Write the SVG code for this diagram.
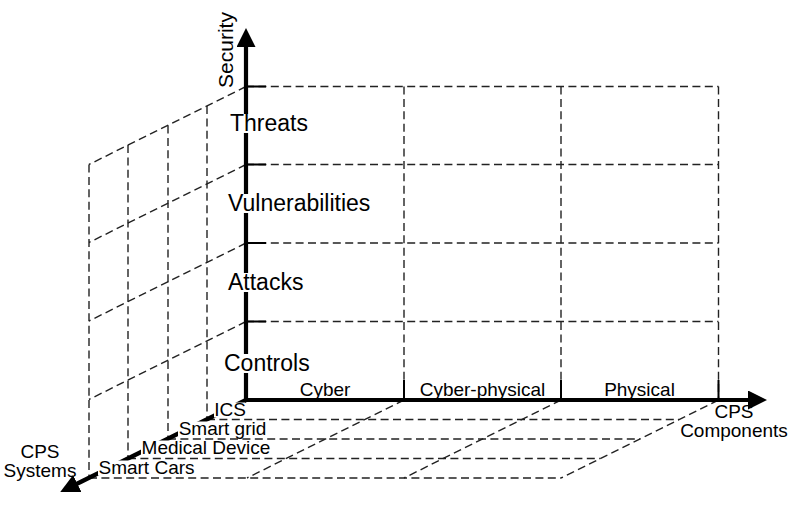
<svg xmlns="http://www.w3.org/2000/svg" width="802" height="505" viewBox="0 0 802 505">
<style>
.d{fill:none;stroke:#222;stroke-width:1.4;stroke-dasharray:8 4.4}
.ax{fill:none;stroke:#000;stroke-width:4.2}
.tk{fill:none;stroke:#000;stroke-width:2}
.bg{fill:#fff}
text{font-family:"Liberation Sans",Arial,sans-serif;fill:#000}
.big{font-size:23px}
.sm{font-size:19px;text-anchor:middle}
.sec{font-size:21px;text-anchor:middle}
</style>
<defs>
<marker id="ah" viewBox="0 0 19 19" refX="2" refY="9.5" markerWidth="19" markerHeight="19" markerUnits="userSpaceOnUse" orient="auto">
<path d="M0,0 L19,9.5 L0,19 Z" fill="#000"/>
</marker>
</defs>
<rect width="802" height="505" fill="#fff"/>
<g id="grid">
<path class="d" d="M246,86.5H718.5 M246,164.5H718.5 M246,243H718.5 M246,321.5H718.5"/>
<path class="d" d="M404,86.5V400 M561,86.5V400 M718.5,86.5V400"/>
<path class="d" d="M246,86.5L89,164.5 M246,164.5L89,242.5 M246,243L89,321 M246,321.5L89,399.5"/>
<path class="d" d="M207,106V419.5 M168,125.5V439 M128,145V458.5 M89,164.5V478"/>
<path class="d" d="M207,419.5H679 M168,439H640 M128,458.5H600 M89,478H561"/>
<path class="d" d="M404,400L247,478 M561,400L404,478 M718.5,400L561,478"/>
</g>
<g id="connectors">
<path class="tk" d="M246,86.5H266 M246,164.5H266 M246,243H266 M246,321.5H266"/>
<path class="tk" d="M404,380V400 M561,380V400 M718.5,380V400"/>
<line id="axis-security" class="ax" x1="246" y1="402" x2="246" y2="45" marker-end="url(#ah)"/>
<line id="axis-components" class="ax" x1="244" y1="400" x2="750" y2="400" marker-end="url(#ah)"/>
<line id="axis-systems" class="ax" x1="246" y1="400" x2="75.5" y2="484.5" stroke-width="3.6" marker-end="url(#ah)"/>
</g>
<g id="label-security"><text class="sec" transform="translate(233,50) rotate(-90)">Security</text></g>
<g id="node-threats"><rect class="bg" x="229" y="114" width="81" height="19"/><text class="big" x="230" y="131">Threats</text></g>
<g id="node-vulnerabilities"><rect class="bg" x="227" y="194" width="147" height="19"/><text class="big" x="228" y="211">Vulnerabilities</text></g>
<g id="node-attacks"><rect class="bg" x="227" y="273" width="78" height="19"/><text class="big" x="228" y="290">Attacks</text></g>
<g id="node-controls"><rect class="bg" x="223" y="354" width="88" height="19"/><text class="big" x="224" y="371">Controls</text></g>
<g id="node-cyber"><text class="sm" x="325" y="396">Cyber</text></g>
<g id="node-cyber-physical"><text class="sm" x="482.5" y="396">Cyber-physical</text></g>
<g id="node-physical"><text class="sm" x="639.5" y="396">Physical</text></g>
<g id="label-components"><text class="sm" x="734" y="418">CPS</text><text class="sm" x="734" y="437">Components</text></g>
<g id="label-systems"><text class="sm" x="40" y="458">CPS</text><text class="sm" x="40" y="477">Systems</text></g>
<g id="node-ics"><rect class="bg" x="214" y="402.5" width="31" height="15"/><text class="sm" x="230" y="416">ICS</text></g>
<g id="node-smart-grid"><rect class="bg" x="178" y="421.5" width="89" height="15"/><text class="sm" x="222.5" y="435">Smart grid</text></g>
<g id="node-medical-device"><rect class="bg" x="141" y="440.5" width="130" height="15"/><text class="sm" x="206" y="454">Medical Device</text></g>
<g id="node-smart-cars"><rect class="bg" x="98" y="460.5" width="97" height="15"/><text class="sm" x="146.5" y="474">Smart Cars</text></g>
</svg>
